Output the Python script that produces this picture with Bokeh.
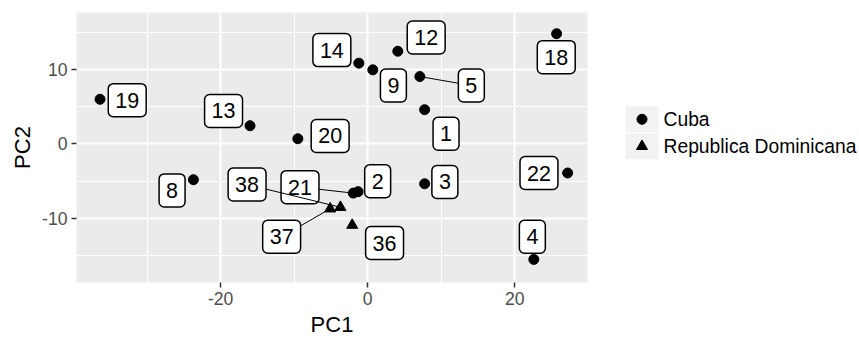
import math
from bokeh.plotting import figure
from bokeh.models import ColumnDataSource, Range1d, FixedTicker, CustomJSTickFormatter
from bokeh.layouts import row
from bokeh.core.properties import value
from bokeh.embed import file_html
from bokeh.resources import INLINE

# ---- data ----
ids = ["1", "2", "3", "4", "5", "8", "9", "12", "13", "14", "18", "19", "20", "21", "22",
       "36", "37", "38"]
country = ["Cuba"] * 15 + ["Republica Dominicana"] * 3
pc1 = [7.75, -1.3, 7.75, 22.6, 7.1, -23.7, 0.7, 4.1, -16.0, -1.2, 25.7, -36.4, -9.5, -1.95, 27.2,
       -2.1, -5.1, -3.7]
pc2 = [4.6, -6.4, -5.35, -15.5, 9.05, -4.8, 9.95, 12.45, 2.45, 10.85, 14.8, 6.0, 0.7, -6.6, -3.9,
       -10.9, -8.7, -8.5]
# repelled label positions (data units)
label_pc1 = [10.66, 1.36, 10.5, 22.4, 14.1, -26.6, 3.5, 7.96, -19.6, -4.87, 25.65, -32.7, -5.1, -9.2, 23.3,
             2.3, -11.7, -16.4]
label_pc2 = [1.37, -5.0, -5.1, -12.46, 7.85, -6.24, 7.85, 14.3, 4.43, 12.6, 11.65, 5.88, 1.07, -5.8, -3.9,
             -13.3, -12.46, -5.44]
categories = ["Cuba", "Republica Dominicana"]
markers = ["circle", "triangle"]
x_ticks = [-20, 0, 20]
x_minor = [-30, -10, 10]
y_ticks = [-10, 0, 10]
y_minor = [-15, -5, 5, 15]

FONT = "Liberation Sans"

p = figure(width=608, height=340, output_backend="svg", toolbar_location=None,
           x_range=Range1d(-39.6, 29.9), y_range=Range1d(-18.6, 17.65),
           min_border_left=76, min_border_right=21, min_border_top=12, min_border_bottom=58)
p.background_fill_color = "#EBEBEB"
p.border_fill_color = "white"
p.outline_line_color = None

p.xaxis.ticker = FixedTicker(ticks=x_ticks, minor_ticks=x_minor)
p.yaxis.ticker = FixedTicker(ticks=y_ticks, minor_ticks=y_minor)
fmt = CustomJSTickFormatter(code="return tick.toString();")
p.xaxis.formatter = fmt
p.yaxis.formatter = fmt
for g in (p.xgrid, p.ygrid):
    g.grid_line_color = "white"
    g.grid_line_width = 2
    g.minor_grid_line_color = "white"
    g.minor_grid_line_width = 1
for ax in (p.xaxis, p.yaxis):
    ax.axis_line_color = None
    ax.major_tick_line_color = "#333333"
    ax.major_tick_line_width = 1.5
    ax.major_tick_out = 5
    ax.major_tick_in = 0
    ax.minor_tick_line_color = None
    ax.major_label_text_font = FONT
    ax.major_label_text_font_size = "17.6px"
    ax.major_label_text_color = "#4D4D4D"
    ax.major_label_standoff = 4
    ax.axis_label_text_font = FONT
    ax.axis_label_text_font_size = "22px"
    ax.axis_label_text_font_style = "normal"
    ax.axis_label_text_color = "black"
    ax.axis_label_standoff = 4
p.xaxis.axis_label = "PC1"
p.yaxis.axis_label = "PC2"

# points
for cat, mk in zip(categories, markers):
    idx = [i for i, c in enumerate(country) if c == cat]
    src = ColumnDataSource(dict(x=[pc1[i] for i in idx], y=[pc2[i] for i in idx]))
    p.scatter("x", "y", source=src, marker=mk, size=10 if mk == "circle" else 11,
              fill_color="black", line_color="black")

# labels with segments (ggrepel-like), grouped so later groups' segments lie over earlier boxes
for cat in categories:
    idx = [i for i, c in enumerate(country) if c == cat]
    seg = [i for i in idx if math.hypot(label_pc1[i] - pc1[i], label_pc2[i] - pc2[i]) > 6]
    if seg:
        p.segment(x0=[pc1[i] for i in seg], y0=[pc2[i] for i in seg],
                  x1=[label_pc1[i] for i in seg], y1=[label_pc2[i] for i in seg],
                  line_color="black", line_width=1)
    lsrc = ColumnDataSource(dict(x=[label_pc1[i] for i in idx], y=[label_pc2[i] for i in idx],
                                 t=[ids[i] for i in idx]))
    p.text("x", "y", text="t", source=lsrc, text_font=value(FONT), text_font_size="21.5px",
           text_color="black", text_align="center", text_baseline="middle",
           padding=dict(left=7, right=7, top=9, bottom=9), border_radius=5,
           background_fill_color="white", border_line_color="black", border_line_width=1.5)

# ---- legend panel (drawn as its own small figure) ----
LW, LH = 251, 340
lg = figure(width=LW, height=LH, output_backend="svg", toolbar_location=None,
            x_range=Range1d(0, LW), y_range=Range1d(LH, 0),
            x_axis_location=None, y_axis_location=None, min_border=0)
lg.grid.visible = False
lg.outline_line_color = None
lg.background_fill_color = "white"
lg.border_fill_color = "white"
key = 34
n = len(categories)
center_y = 151.5
key_y = [center_y - key * (n / 2 - 0.5 - i) for i in range(n)]
key_x = [33.5] * n
lg.rect(key_x, key_y, width=key, height=key, fill_color="#F2F2F2", line_color="white", line_width=1)
for i, (cat, mk) in enumerate(zip(categories, markers)):
    lg.scatter([key_x[i]], [key_y[i]], marker=mk, size=10 if mk == "circle" else 11,
               fill_color="black", line_color="black")
lg.text([55] * n, key_y, text=categories, text_font=value(FONT), text_font_size="19.3px",
        text_color="black", text_align="left", text_baseline="middle")

layout = row(p, lg)
open("out.html", "w").write(file_html(layout, INLINE))
